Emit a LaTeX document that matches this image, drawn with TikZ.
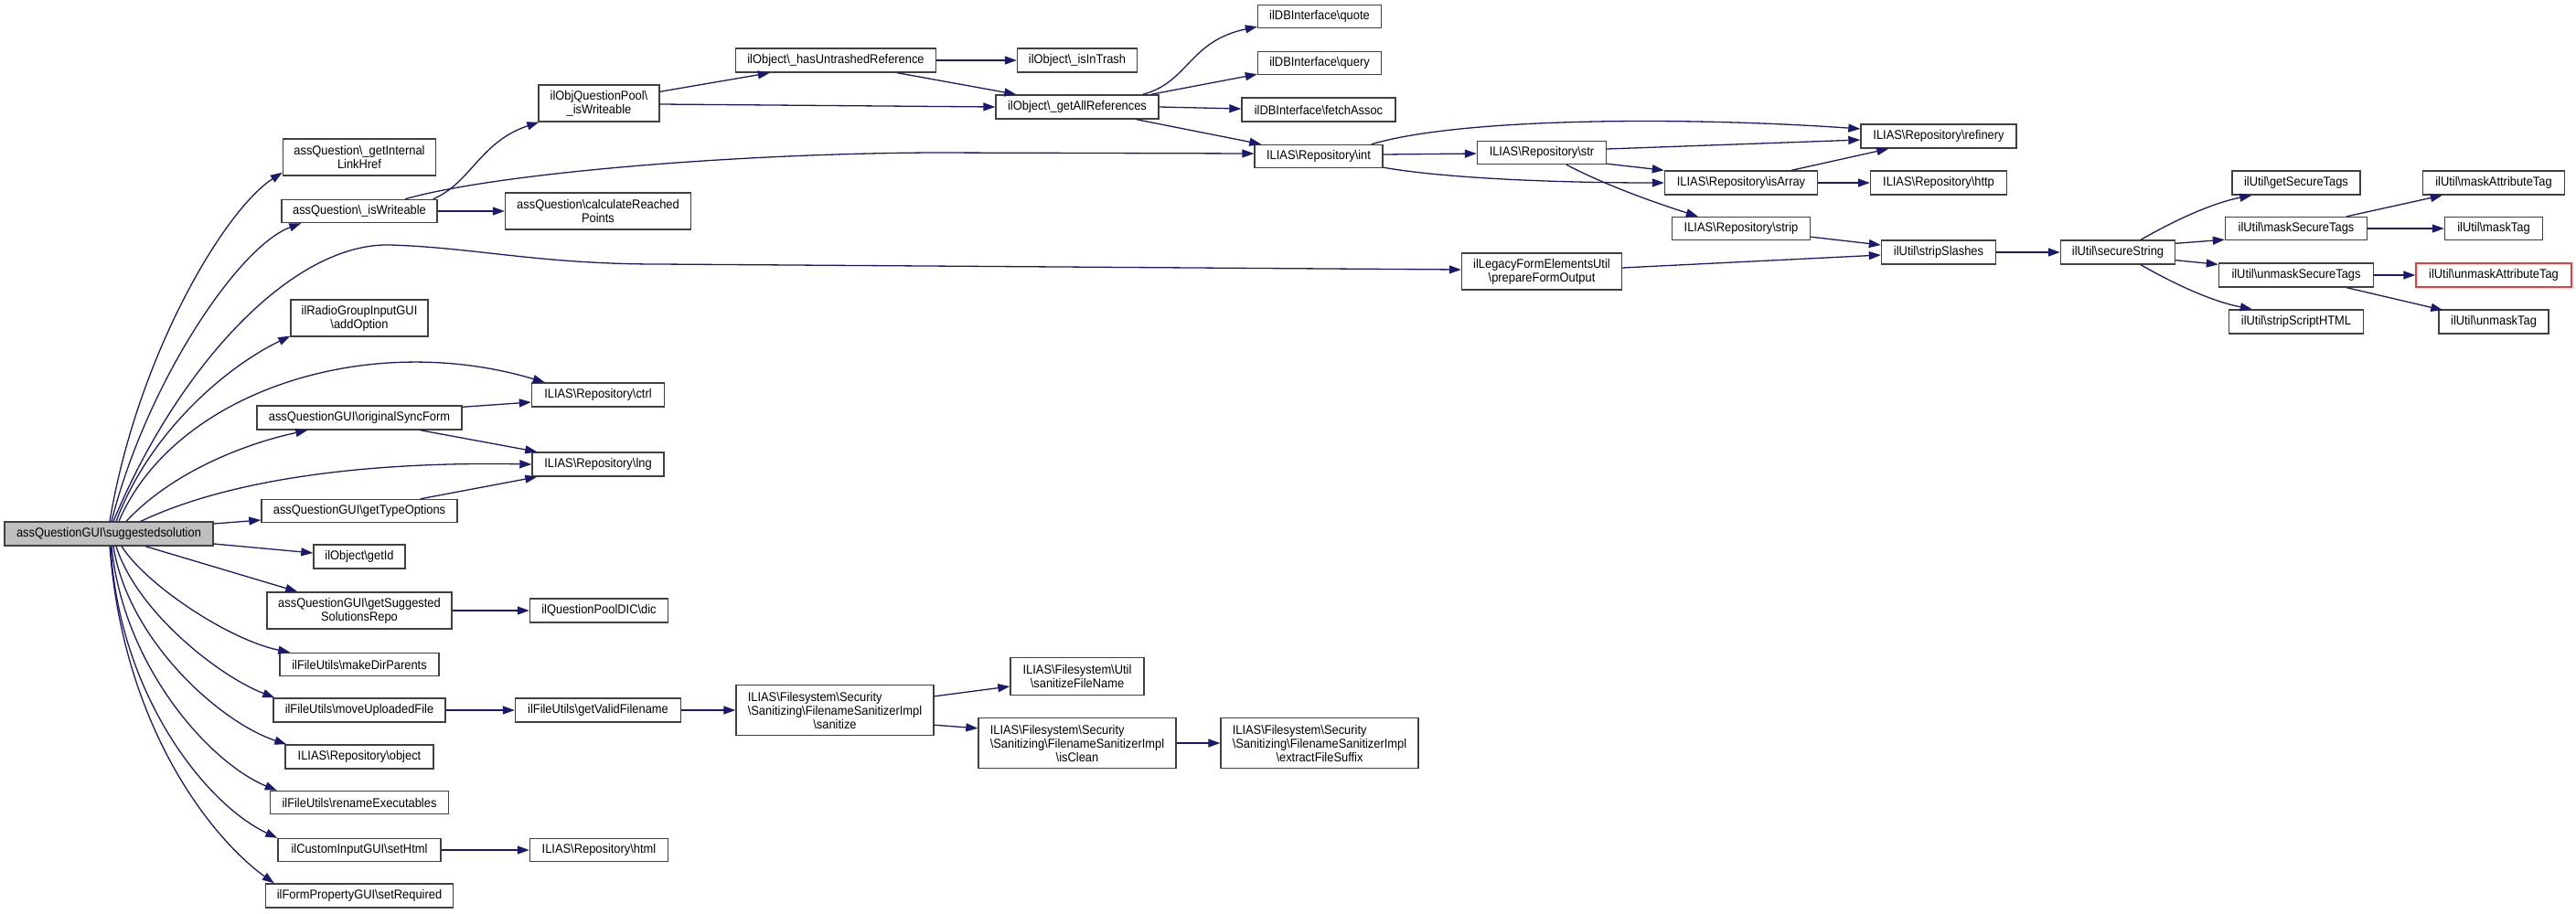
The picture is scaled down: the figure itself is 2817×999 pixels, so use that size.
\documentclass[tikz,border=0pt]{standalone}
\usepackage{fontspec}
\setmainfont{Liberation Sans}[FakeStretch=0.92]
\usepackage{calc}
\usetikzlibrary{arrows.meta,calc}
\definecolor{edgeblue}{HTML}{191970}
\definecolor{boxline}{HTML}{404040}
\definecolor{mainfill}{HTML}{BFBFBF}
\definecolor{redline}{HTML}{FF3333}
\newcommand\bksl{\textbackslash}
\newcommand\fsfirst{\makebox[\widthof{\bksl Sanitizing\bksl FilenameSanitizerImpl}][l]{ILIAS\bksl Filesystem\bksl Security}}
\begin{document}
\begin{tikzpicture}[x=1pt,y=-1pt,
  box/.style={draw=boxline, line width=1.4pt, fill=white, inner sep=0pt, align=center,
    font=\fontsize{14}{15}\selectfont, text=black},
  edge/.style={draw=edgeblue, line width=1.3pt, -{Triangle[length=13pt,width=9pt]}}]
\useasboundingbox (0,0) rectangle (2817,999);
% ---- nodes
\node[box,fill=mainfill,minimum width=228pt,minimum height=26pt] (main) at (119,584) {assQuestionGUI\bksl suggestedsolution};
\node[box,minimum width=167pt,minimum height=40pt] (gilh) at (393,172) {assQuestion\bksl\_getInternal\\LinkHref};
\node[box,minimum width=170pt,minimum height=25pt] (isw) at (393,231) {assQuestion\bksl\_isWriteable};
\node[box,minimum width=150pt,minimum height=40pt] (addopt) at (393,348) {ilRadioGroupInputGUI\\\bksl addOption};
\node[box,minimum width=224pt,minimum height=26pt] (osf) at (393,457) {assQuestionGUI\bksl originalSyncForm};
\node[box,minimum width=214pt,minimum height=25pt] (gto) at (393,559) {assQuestionGUI\bksl getTypeOptions};
\node[box,minimum width=100pt,minimum height=26pt] (getid) at (393,609) {ilObject\bksl getId};
\node[box,minimum width=202pt,minimum height=40pt] (gssr) at (393,668) {assQuestionGUI\bksl getSuggested\\SolutionsRepo};
\node[box,minimum width=174pt,minimum height=25pt] (mkdir) at (393,727) {ilFileUtils\bksl makeDirParents};
\node[box,minimum width=188pt,minimum height=26pt] (mvup) at (393,777) {ilFileUtils\bksl moveUploadedFile};
\node[box,minimum width=162pt,minimum height=26pt] (obj) at (393,828) {ILIAS\bksl Repository\bksl object};
\node[box,minimum width=195pt,minimum height=25pt] (renex) at (393,878) {ilFileUtils\bksl renameExecutables};
\node[box,minimum width=178pt,minimum height=25pt] (sethtml) at (393,930) {ilCustomInputGUI\bksl setHtml};
\node[box,minimum width=205pt,minimum height=26pt] (setreq) at (393,980) {ilFormPropertyGUI\bksl setRequired};
\node[box,minimum width=132pt,minimum height=40pt] (oqp) at (655,113) {ilObjQuestionPool\bksl\\\_isWriteable};
\node[box,minimum width=203pt,minimum height=40pt] (calc) at (654,231) {assQuestion\bksl calculateReached\\Points};
\node[box,minimum width=145pt,minimum height=26pt] (ctrl) at (654,432) {ILIAS\bksl Repository\bksl ctrl};
\node[box,minimum width=144pt,minimum height=26pt] (lng) at (654,508) {ILIAS\bksl Repository\bksl lng};
\node[box,minimum width=151pt,minimum height=26pt] (dic) at (655,668) {ilQuestionPoolDIC\bksl dic};
\node[box,minimum width=181pt,minimum height=26pt] (gvf) at (654,777) {ilFileUtils\bksl getValidFilename};
\node[box,minimum width=151pt,minimum height=25pt] (html) at (655,930) {ILIAS\bksl Repository\bksl html};
\node[box,minimum width=219pt,minimum height=26pt] (hur) at (914,66) {ilObject\bksl\_hasUntrashedReference};
\node[box,minimum width=131pt,minimum height=26pt] (iit) at (1178,66) {ilObject\bksl\_isInTrash};
\node[box,minimum width=178pt,minimum height=26pt] (gar) at (1178,117) {ilObject\bksl\_getAllReferences};
\node[box,minimum width=135pt,minimum height=25pt] (quote) at (1443,18) {ilDBInterface\bksl quote};
\node[box,minimum width=135pt,minimum height=25pt] (query) at (1443,69) {ilDBInterface\bksl query};
\node[box,minimum width=168pt,minimum height=26pt] (fetch) at (1442,120) {ilDBInterface\bksl fetchAssoc};
\node[box,minimum width=140pt,minimum height=25pt] (int) at (1442,171) {ILIAS\bksl Repository\bksl int};
\node[box,minimum width=141pt,minimum height=25pt] (str) at (1686,167) {ILIAS\bksl Repository\bksl str};
\node[box,minimum width=170pt,minimum height=26pt] (refinery) at (2120,149) {ILIAS\bksl Repository\bksl refinery};
\node[box,minimum width=167pt,minimum height=26pt] (isarr) at (1904,200) {ILIAS\bksl Repository\bksl isArray};
\node[box,minimum width=149pt,minimum height=26pt] (http) at (2120,200) {ILIAS\bksl Repository\bksl http};
\node[box,minimum width=151pt,minimum height=25pt] (strip) at (1904,250) {ILIAS\bksl Repository\bksl strip};
\node[box,minimum width=125pt,minimum height=26pt] (strsl) at (2120,276) {ilUtil\bksl stripSlashes};
\node[box,minimum width=175pt,minimum height=40pt] (pfo) at (1686,297) {ilLegacyFormElementsUtil\\\bksl prepareFormOutput};
\node[box,minimum width=125pt,minimum height=26pt] (secs) at (2316,276) {ilUtil\bksl secureString};
\node[box,minimum width=140pt,minimum height=26pt] (gst) at (2511,200) {ilUtil\bksl getSecureTags};
\node[box,minimum width=155pt,minimum height=25pt] (mst) at (2511,250) {ilUtil\bksl maskSecureTags};
\node[box,minimum width=169pt,minimum height=26pt] (umst) at (2511,301) {ilUtil\bksl unmaskSecureTags};
\node[box,minimum width=147pt,minimum height=26pt] (ssh) at (2511,352) {ilUtil\bksl stripScriptHTML};
\node[box,minimum width=155pt,minimum height=26pt] (mat) at (2727,200) {ilUtil\bksl maskAttributeTag};
\node[box,minimum width=107pt,minimum height=25pt] (mtag) at (2727,250) {ilUtil\bksl maskTag};
\node[box,draw=redline,minimum width=170pt,minimum height=26pt] (umat) at (2727,301) {ilUtil\bksl unmaskAttributeTag};
\node[box,minimum width=120pt,minimum height=26pt] (umtag) at (2727,352) {ilUtil\bksl unmaskTag};
\node[box,minimum width=216pt,minimum height=55pt] (san) at (913,777) {\fsfirst\\\bksl Sanitizing\bksl FilenameSanitizerImpl\\\bksl sanitize};
\node[box,minimum width=146pt,minimum height=41pt] (sfn) at (1178,740) {ILIAS\bksl Filesystem\bksl Util\\\bksl sanitizeFileName};
\node[box,minimum width=216pt,minimum height=55pt] (iscl) at (1178,813) {\fsfirst\\\bksl Sanitizing\bksl FilenameSanitizerImpl\\\bksl isClean};
\node[box,minimum width=216pt,minimum height=55pt] (efs) at (1443,813) {\fsfirst\\\bksl Sanitizing\bksl FilenameSanitizerImpl\\\bksl extractFileSuffix};
% ---- edges from main
\draw[edge] ($(main.north)+(1,0)$) .. controls (150,390) and (245,230) .. ($(gilh.south west)+(0,-4)$);
\draw[edge] ($(main.north)+(3,0)$) .. controls (160,420) and (260,270) .. ($(isw.south west)+(22,0)$);
\draw[edge] ($(main.north)+(5,0)$) .. controls (195,400) and (320,265) .. (427,268) .. controls (520,271) and (590,289) .. (720,289) -- ($(pfo.west)+(0,-2)$);
\draw[edge] ($(main.north)+(8,0)$) .. controls (165,470) and (250,400) .. ($(addopt.south west)+(0,-1)$);
\draw[edge] ($(main.north)+(11,0)$) .. controls (190,430) and (400,360) .. ($(ctrl.north west)+(15,0)$);
\draw[edge] ($(main.north)+(19,0)$) .. controls (190,515) and (270,485) .. ($(osf.south west)+(56,0)$);
\draw[edge] ($(main.north)+(35,0)$) .. controls (260,520) and (420,505) .. (lng.west);
\draw[edge] ($(main.east)+(0,-11)$) -- ($(gto.west)+(0,10)$);
\draw[edge] ($(main.east)+(0,11)$) -- ($(getid.west)+(0,-4)$);
\draw[edge] ($(main.south)+(40,0)$) -- ($(gssr.north west)+(34,0)$);
\draw[edge] ($(main.south)+(14,0)$) .. controls (160,640) and (250,700) .. ($(mkdir.north west)+(12,0)$);
\draw[edge] ($(main.south)+(8,0)$) .. controls (150,670) and (240,740) .. ($(mvup.north west)+(2,0)$);
\draw[edge] ($(main.south)+(5,0)$) .. controls (140,700) and (240,790) .. ($(obj.north west)+(2,0)$);
\draw[edge] ($(main.south)+(3,0)$) .. controls (135,730) and (230,835) .. ($(renex.north west)+(8,0)$);
\draw[edge] ($(main.south)+(2,0)$) .. controls (130,760) and (225,880) .. ($(sethtml.north west)+(0,0)$);
\draw[edge] ($(main.south)+(1,0)$) .. controls (135,800) and (235,920) .. ($(setreq.north west)+(10,0)$);
% ---- level 1
\draw[edge] ($(isw.north east)+(-5,0)$) .. controls (515,200) and (525,155) .. ($(oqp.south west)+(1,0)$);
\draw[edge] ($(isw.north)+(50,0)$) .. controls (540,190) and (800,168) .. (1021,167) -- ($(int.west)+(0,-3)$);
\draw[edge] (isw) -- (calc);
\draw[edge] ($(osf.north east)+(0,2)$) -- ($(ctrl.west)+(0,8)$);
\draw[edge] ($(osf.south east)+(-46,0)$) -- ($(lng.north west)+(6,0)$);
\draw[edge] ($(gto.north east)+(-41,0)$) -- ($(lng.south west)+(6,0)$);
\draw[edge] (gssr) -- (dic);
\draw[edge] (mvup) -- (gvf);
\draw[edge] (sethtml) -- (html);
% ---- ilObjQuestionPool and ilObject
\draw[edge] ($(oqp.north east)+(0,8)$) -- ($(hur.south west)+(38,0)$);
\draw[edge] ($(oqp.east)+(0,1)$) -- (gar.west);
\draw[edge] (hur) -- (iit);
\draw[edge] ($(hur.south east)+(-43,0)$) -- ($(gar.north west)+(23,0)$);
\draw[edge] ($(gar.north east)+(-18,0)$) .. controls (1300,90) and (1300,45) .. ($(quote.south west)+(0,-2)$);
\draw[edge] ($(gar.north east)+(-9,0)$) -- ($(query.south west)+(0,-1)$);
\draw[edge] (gar.east) -- ($(fetch.west)+(0,-1)$);
\draw[edge] ($(gar.south east)+(-25,0)$) -- ($(int.north west)+(8,0)$);
% ---- Repository
\draw[edge] ($(int.north east)+(-13,0)$) .. controls (1600,128) and (1850,128) .. ($(refinery.west)+(0,-8)$);
\draw[edge] ($(int.east)+(0,-2)$) -- ($(str.west)+(0,1)$);
\draw[edge] ($(int.south east)+(0,-1)$) .. controls (1580,195) and (1700,200) .. (isarr.west);
\draw[edge] ($(str.east)+(0,-4)$) -- ($(refinery.west)+(0,4)$);
\draw[edge] ($(str.south east)+(0,-1)$) -- (isarr.north west);
\draw[edge] ($(str.south)+(27,0)$) .. controls (1760,205) and (1820,225) .. ($(strip.north west)+(29,0)$);
\draw[edge] ($(isarr.north east)+(-29,0)$) -- ($(refinery.south west)+(31,0)$);
\draw[edge] (isarr) -- (http);
\draw[edge] ($(strip.south east)+(0,-4)$) -- ($(strsl.west)+(0,-8)$);
\draw[edge] ($(pfo.east)+(0,-4)$) -- ($(strsl.west)+(0,3)$);
\draw[edge] (strsl) -- (secs);
% ---- ilUtil
\draw[edge] ($(secs.north)+(25,0)$) .. controls (2380,240) and (2420,222) .. ($(gst.south west)+(22,0)$);
\draw[edge] ($(secs.north east)+(0,4)$) -- ($(mst.south west)+(0,-1)$);
\draw[edge] ($(secs.south east)+(0,-5)$) -- ($(umst.north west)+(0,2)$);
\draw[edge] ($(secs.south)+(25,0)$) .. controls (2380,312) and (2420,330) .. ($(ssh.north west)+(26,0)$);
\draw[edge] ($(mst.north east)+(-23,0)$) -- ($(mat.south west)+(22,0)$);
\draw[edge] (mst) -- (mtag);
\draw[edge] (umst) -- (umat);
\draw[edge] ($(umst.south east)+(-30,0)$) -- ($(umtag.north west)+(5,1)$);
% ---- Filesystem
\draw[edge] (gvf) -- (san);
\draw[edge] ($(san.north east)+(0,13)$) -- ($(sfn.west)+(0,11)$);
\draw[edge] ($(san.south east)+(0,-12)$) -- ($(iscl.north west)+(0,12)$);
\draw[edge] (iscl) -- (efs);
\end{tikzpicture}
\end{document}
